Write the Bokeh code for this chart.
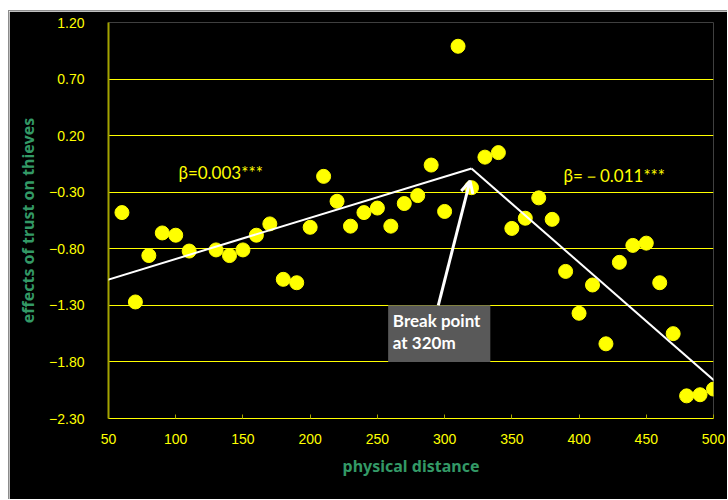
from bokeh.plotting import figure
from bokeh.models import (FixedTicker, CustomJSTickFormatter, Range1d, Arrow, OpenHead,
                          BoxAnnotation, ColumnDataSource)
from bokeh.core.properties import value
from bokeh.embed import file_html
from bokeh.resources import INLINE

# ---- data ----
distance = [60, 70, 80, 90, 100, 110, 130, 140, 150, 160, 170, 180, 190, 200,
            210, 220, 230, 240, 250, 260, 270, 280, 290, 300, 310, 320, 330,
            340, 350, 360, 370, 380, 390, 400, 410, 420, 430, 440, 450, 460,
            470, 480, 490, 500]
effect = [-0.48, -1.27, -0.86, -0.66, -0.68, -0.82, -0.81, -0.86, -0.81, -0.68,
          -0.58, -1.07, -1.10, -0.61, -0.16, -0.38, -0.60, -0.48, -0.44, -0.60,
          -0.40, -0.33, -0.06, -0.47, 0.99, -0.26, 0.01, 0.05, -0.62, -0.53,
          -0.35, -0.54, -1.00, -1.37, -1.12, -1.64, -0.92, -0.77, -0.75, -1.10,
          -1.55, -2.10, -2.09, -2.04]

# piecewise fit
fit_x = [45, 320, 503]
fit_y = [-1.09, -0.09, -1.99]

x_ticks = [50, 100, 150, 200, 250, 300, 350, 400, 450, 500]
y_ticks = [-2.3, -1.8, -1.3, -0.8, -0.3, 0.2, 0.7, 1.2]

slope_labels = ["β=0.003***", "β=－0.011***"]
slope_label_x = [102, 388.5]
slope_label_y = [-0.125, -0.155]

break_text = ["Break point", "at 320m"]
break_text_x = [261.5, 261.5]
break_text_y = [-1.433, -1.624]
break_box = dict(left=258, right=334, top=-1.30, bottom=-1.80)
arrow_from = (295.3, -1.30)
arrow_to = (318.9, -0.20)

YELLOW = "#ffff00"
OLIVE = "#a3a300"
GREEN = "#339966"

p = figure(width=719, height=489, output_backend="svg", toolbar_location=None,
           x_range=Range1d(50, 500), y_range=Range1d(-2.3, 1.2),
           min_border_left=99, min_border_top=11, min_border_right=15,
           min_border_bottom=82)
p.margin = (10, 0, 0, 8)
p.styles = {"border-top": "1px solid #8c8c8c", "border-left": "1px solid #8c8c8c"}
p.background_fill_color = "black"
p.border_fill_color = "black"
p.outline_line_color = None

# grid
p.xgrid.grid_line_color = None
p.ygrid.ticker = FixedTicker(ticks=y_ticks)
p.ygrid.grid_line_color = YELLOW
p.ygrid.grid_line_width = 1

# axes
p.xaxis.ticker = FixedTicker(ticks=x_ticks)
p.yaxis.ticker = FixedTicker(ticks=y_ticks)
p.yaxis.formatter = CustomJSTickFormatter(code='return tick.toFixed(2).replace("-", "\\u2212")')
for ax in (p.xaxis[0], p.yaxis[0]):
    ax.major_label_text_color = YELLOW
    ax.major_label_text_font = "Liberation Sans"
    ax.major_label_text_font_size = "14px"
    ax.minor_tick_line_color = None
    ax.axis_label_text_color = GREEN
    ax.axis_label_text_font = "Noto Sans"
    ax.axis_label_text_font_style = "bold"
    ax.axis_label_text_font_size = "16px"
p.xaxis.axis_label = "physical distance"
p.yaxis.axis_label = "effects of trust on thieves"
p.yaxis.axis_line_color = OLIVE
p.yaxis.axis_line_width = 2
p.yaxis.major_tick_line_color = None
p.yaxis.major_label_standoff = 18
p.yaxis.axis_label_standoff = 7
p.xaxis.axis_line_color = YELLOW
p.xaxis.axis_line_width = 1
p.xaxis.major_tick_line_color = OLIVE
p.xaxis.major_tick_in = 4
p.xaxis.major_tick_out = 0
p.xaxis.major_label_standoff = 15
p.xaxis.axis_label_standoff = 8

# points
src = ColumnDataSource(dict(x=distance, y=effect))
p.scatter("x", "y", source=src, size=14, fill_color=YELLOW, line_color=YELLOW)

# fit lines (annotations so they are not clipped by the frame)
for i in range(len(fit_x) - 1):
    p.add_layout(Arrow(end=None, x_start=fit_x[i], y_start=fit_y[i],
                       x_end=fit_x[i + 1], y_end=fit_y[i + 1],
                       line_color="white", line_width=2))

# break point box and arrow
p.add_layout(BoxAnnotation(**break_box, fill_color="#595959", fill_alpha=1,
                           line_color=None, level="underlay"))
p.add_layout(Arrow(end=OpenHead(size=12, line_color="white", line_width=3),
                   x_start=arrow_from[0], y_start=arrow_from[1],
                   x_end=arrow_to[0], y_end=arrow_to[1],
                   line_color="white", line_width=3))

p.text(x=break_text_x, y=break_text_y, text=break_text, text_color="white",
       text_font=value("Lato"), text_font_style="bold", text_font_size="17px",
       text_align="left", text_baseline="middle")

p.text(x=slope_label_x, y=slope_label_y, text=slope_labels, text_color=YELLOW,
       text_font=value("Lato"), text_font_size="17px",
       text_align="left", text_baseline="middle")

open("out.html", "w").write(file_html(p, INLINE))
